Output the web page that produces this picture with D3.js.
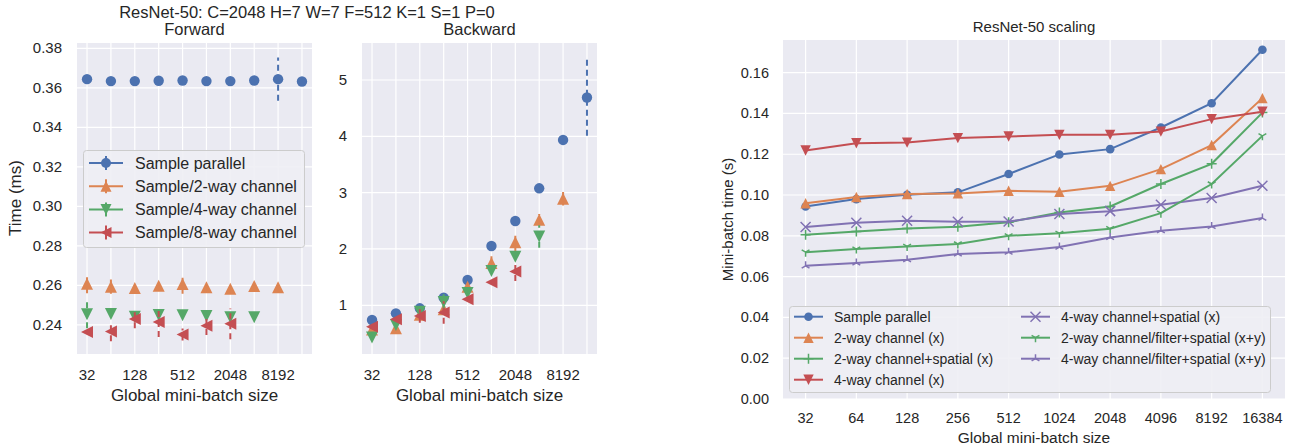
<!DOCTYPE html>
<meta charset="utf-8">
<script src="https://cdn.jsdelivr.net/npm/d3@7/dist/d3.min.js"></script>
<style>
body { margin: 0; background: #fff; }
text { font-family: 'Liberation Sans', Arial, sans-serif; fill: #262626; }
.grid line { stroke: #fff; stroke-width: 1.2px; }
</style>
<body>
<script>

// ---- data ----
var batchSizes = [32, 64, 128, 256, 512, 1024, 2048, 4096, 8192, 16384];
var leftTickSizes = [32, 128, 512, 2048, 8192];

// forward (ms)
var fwdSample = [0.3644, 0.3634, 0.3634, 0.3636, 0.3637, 0.3634, 0.3634, 0.3637, 0.3644, 0.3632];
var fwdSampleErr = [0.0005, 0.0003, 0.0003, 0.0003, 0.0003, 0.0003, 0.0003, 0.0003, 0.011, 0.0003];
var fwd2way = [0.2608, 0.2593, 0.2586, 0.2598, 0.2607, 0.2590, 0.2583, 0.2597, 0.2590, null];
var fwd2wayErr = [0.0048, 0.0036, 0.001, 0.001, 0.005, 0.001, 0.001, 0.001, 0.001, null];
var fwd4way = [0.2453, 0.2455, 0.2441, 0.2450, 0.2448, 0.2445, 0.2438, 0.2438, null, null];
var fwd4wayErr = [0.007, 0.001, 0.001, 0.001, 0.001, 0.001, 0.001, 0.001, null, null];
var fwd8way = [0.2363, 0.2366, 0.2429, 0.2414, 0.2351, 0.2395, 0.2405, null, null, null];
var fwd8wayErr = [0.001, 0.005, 0.0046, 0.0076, 0.003, 0.0047, 0.0078, null, null, null];

// backward (ms)
var bwdSample = [0.739, 0.857, 0.946, 1.135, 1.449, 2.053, 2.497, 3.077, 3.936, 4.69];
var bwdSampleErr = [0.02, 0.02, 0.08, 0.03, 0.02, 0.02, 0.02, 0.02, 0.02, 0.68];
var bwd2way = [0.57, 0.59, 0.83, 0.93, 1.33, 1.75, 2.12, 2.52, 2.89, null];
var bwd2wayErr = [0.02, 0.02, 0.05, 0.05, 0.07, 0.12, 0.17, 0.1, 0.12, null];
var bwd4way = [0.43, 0.65, 0.886, 1.06, 1.22, 1.61, 1.86, 2.22, null, null];
var bwd4wayErr = [0.02, 0.02, 0.05, 0.15, 0.03, 0.03, 0.03, 0.2, null, null];
var bwd8way = [0.62, 0.75, 0.81, 0.87, 1.107, 1.41, 1.60, null, null, null];
var bwd8wayErr = [0.02, 0.02, 0.12, 0.2, 0.03, 0.02, 0.17, null, null, null];

var leftNames = ["Sample parallel", "Sample/2-way channel", "Sample/4-way channel", "Sample/8-way channel"];

// scaling (s)
var scSample = [0.0944, 0.0980, 0.1001, 0.1013, 0.1103, 0.1199, 0.1225, 0.1331, 0.1450, 0.1712];
var sc2way = [0.0960, 0.0990, 0.1005, 0.1008, 0.1021, 0.1016, 0.1045, 0.1127, 0.1245, 0.1475];
var sc2wayCS = [0.0805, 0.0821, 0.0836, 0.0844, 0.0867, 0.0914, 0.0944, 0.1054, 0.1153, 0.1404];
var sc4way = [0.1218, 0.1254, 0.1257, 0.1279, 0.1287, 0.1295, 0.1295, 0.1311, 0.1372, 0.1408];
var sc4wayCS = [0.0843, 0.0864, 0.0874, 0.0869, 0.0870, 0.0907, 0.0921, 0.0952, 0.0985, 0.1045];
var sc2wayCFS = [0.0720, 0.0735, 0.0748, 0.0760, 0.0800, 0.0812, 0.0835, 0.0911, 0.1054, 0.1290];
var sc4wayCFS = [0.0653, 0.0667, 0.0683, 0.0711, 0.0720, 0.0745, 0.0792, 0.0825, 0.0846, 0.0887];
var scNames = ["Sample parallel", "2-way channel (x)", "2-way channel+spatial (x)", "4-way channel (x)",
               "4-way channel+spatial (x)", "2-way channel/filter+spatial (x+y)", "4-way channel/filter+spatial (x+y)"];

var blue = "#4c72b0", orange = "#dd8452", green = "#55a868", red = "#c44e52", purple = "#8172b3";
var bg = "#eaeaf2";

var width = 1291, height = 448;
var svg = d3.select("body").append("svg")
    .attr("width", width)
    .attr("height", height);

function markerPath(type, r) {
  var a = 0.866 * r, b = 0.5 * r;
  switch (type) {
    case "^": return "M0," + (-r) + "L" + r + "," + r + "L" + (-r) + "," + r + "Z";
    case "v": return "M0," + r + "L" + r + "," + (-r) + "L" + (-r) + "," + (-r) + "Z";
    case "<": return "M" + (-r) + ",0L" + r + "," + (-r) + "L" + r + "," + r + "Z";
    case "+": return "M" + (-r) + ",0H" + r + "M0," + (-r) + "V" + r;
    case "x": return "M" + (-r) + "," + (-r) + "L" + r + "," + r + "M" + (-r) + "," + r + "L" + r + "," + (-r);
    case "1": return "M0,0V" + r + "M0,0L" + (-a) + "," + (-b) + "M0,0L" + a + "," + (-b);
    case "2": return "M0,0V" + (-r) + "M0,0L" + (-a) + "," + b + "M0,0L" + a + "," + b;
  }
}

function drawMarker(g, type, color, cx, cy, r) {
  if (type == "o") {
    g.append("circle").attr("cx", cx).attr("cy", cy).attr("r", r).style("fill", color);
  } else if (type == "^" || type == "v" || type == "<") {
    g.append("path").attr("transform", "translate(" + cx + "," + cy + ")")
      .attr("d", markerPath(type, r)).style("fill", color);
  } else {
    g.append("path").attr("transform", "translate(" + cx + "," + cy + ")")
      .attr("d", markerPath(type, r)).style("fill", "none")
      .style("stroke", color).style("stroke-width", 1.5);
  }
}

// background + grid for a panel
function makePanel(x0, x1, y0, y1, x, y, yTicks, gridX) {
  var g = svg.append("g");
  g.append("rect").attr("x", x0).attr("y", y0)
    .attr("width", x1 - x0).attr("height", y1 - y0).style("fill", bg);
  var grid = g.append("g").attr("class", "grid");
  grid.selectAll(".h").data(yTicks).enter().append("line")
    .attr("x1", x0).attr("x2", x1)
    .attr("y1", function(d) { return y(d); }).attr("y2", function(d) { return y(d); });
  grid.selectAll(".v").data(gridX).enter().append("line")
    .attr("y1", y0).attr("y2", y1)
    .attr("x1", function(d) { return x(d); }).attr("x2", function(d) { return x(d); });
  return g;
}

// ---------- left two panels ----------
var leftMarkers = ["o", "^", "v", "<"];
var leftColors = [blue, orange, green, red];

function leftPanel(x0, x1, yDomain, yTicks, yFmt, series, errs, title) {
  var top = 43, bottom = 354;
  var x = d3.scaleLog().base(2).domain([Math.pow(2, 4.58), Math.pow(2, 14.42)]).range([x0, x1]);
  var y = d3.scaleLinear().domain(yDomain).range([bottom, top]);
  var g = makePanel(x0, x1, top, bottom, x, y, yTicks, batchSizes);

  g.selectAll(".yt").data(yTicks).enter().append("text")
    .attr("x", x0 - 15).attr("y", function(d) { return y(d) + 5; })
    .style("text-anchor", "end").style("font-size", "15px")
    .text(function(d) { return d3.format(yFmt)(d); });
  g.selectAll(".xt").data(leftTickSizes).enter().append("text")
    .attr("x", function(d) { return x(d); }).attr("y", 380)
    .style("text-anchor", "middle").style("font-size", "15px")
    .text(function(d) { return d; });
  g.append("text").attr("x", (x0 + x1) / 2).attr("y", 401)
    .style("text-anchor", "middle").style("font-size", "17px")
    .text("Global mini-batch size");
  g.append("text").attr("x", (x0 + x1) / 2).attr("y", 35)
    .style("text-anchor", "middle").style("font-size", "16.5px")
    .text(title);

  series.forEach(function(vals, si) {
    var sg = g.append("g");
    batchSizes.forEach(function(b, i) {
      if (vals[i] == null) return;
      var e = errs[si][i];
      sg.append("line")
        .attr("x1", x(b)).attr("x2", x(b))
        .attr("y1", y(vals[i] - e)).attr("y2", y(vals[i] + e))
        .style("stroke", leftColors[si]).style("stroke-width", 2)
        .style("stroke-dasharray", "6,4");
      drawMarker(sg, leftMarkers[si], leftColors[si], x(b), y(vals[i]), leftMarkers[si] == "o" ? 5.2 : 6);
    });
  });
  return {g: g, x: x, y: y};
}

var fwd = leftPanel(77, 312, [0.2252, 0.3827], d3.range(0.24, 0.381, 0.02), ".2f",
  [fwdSample, fwd2way, fwd4way, fwd8way],
  [fwdSampleErr, fwd2wayErr, fwd4wayErr, fwd8wayErr], "Forward");

var bwd = leftPanel(362, 597, [0.135, 5.657], [1, 2, 3, 4, 5], "d",
  [bwdSample, bwd2way, bwd4way, bwd8way],
  [bwdSampleErr, bwd2wayErr, bwd4wayErr, bwd8wayErr], "Backward");

svg.append("text").attr("x", 307).attr("y", 17.5)
  .style("text-anchor", "middle").style("font-size", "16.5px")
  .text("ResNet-50: C=2048 H=7 W=7 F=512 K=1 S=1 P=0");

svg.append("text")
  .attr("transform", "translate(21,198) rotate(-90)")
  .style("text-anchor", "middle").style("font-size", "17px")
  .text("Time (ms)");

// left legend
var lg = svg.append("g");
lg.append("rect").attr("x", 83.5).attr("y", 150.5).attr("width", 221).attr("height", 97)
  .attr("rx", 3).style("fill", "#eeeef4").style("fill-opacity", 0.9)
  .style("stroke", "#cccccc");
leftNames.forEach(function(n, i) {
  var ly = 163 + i * 23.2;
  lg.append("line").attr("x1", 89).attr("x2", 123).attr("y1", ly).attr("y2", ly)
    .style("stroke", leftColors[i]).style("stroke-width", 2);
  lg.append("line").attr("x1", 106).attr("x2", 106).attr("y1", ly - 7).attr("y2", ly + 7)
    .style("stroke", leftColors[i]).style("stroke-width", 2);
  drawMarker(lg, leftMarkers[i], leftColors[i], 106, ly, leftMarkers[i] == "o" ? 5 : 5.5);
  lg.append("text").attr("x", 135).attr("y", ly + 5.5).style("font-size", "16px").text(n);
});

// ---------- right panel ----------
var rx0 = 783, rx1 = 1285, rTop = 40, rBottom = 399;
var xr = d3.scaleLog().base(2).domain([Math.pow(2, 4.555), Math.pow(2, 14.445)]).range([rx0, rx1]);
var yr = d3.scaleLinear().domain([0, 0.176]).range([rBottom, rTop]);
var rTicks = d3.range(0, 0.161, 0.02);
var rg = makePanel(rx0, rx1, rTop, rBottom, xr, yr, rTicks, batchSizes);

rg.selectAll(".yt").data(rTicks).enter().append("text")
  .attr("x", rx0 - 14).attr("y", function(d) { return yr(d) + 5; })
  .style("text-anchor", "end").style("font-size", "14.5px")
  .text(function(d) { return d3.format(".2f")(d); });
rg.selectAll(".xt").data(batchSizes).enter().append("text")
  .attr("x", function(d) { return xr(d); }).attr("y", 423)
  .style("text-anchor", "middle").style("font-size", "14.5px")
  .text(function(d) { return d; });
rg.append("text").attr("x", (rx0 + rx1) / 2).attr("y", 443)
  .style("text-anchor", "middle").style("font-size", "15.5px")
  .text("Global mini-batch size");
rg.append("text").attr("x", (rx0 + rx1) / 2).attr("y", 32)
  .style("text-anchor", "middle").style("font-size", "15px")
  .text("ResNet-50 scaling");
rg.append("text")
  .attr("transform", "translate(733," + ((rTop + rBottom) / 2) + ") rotate(-90)")
  .style("text-anchor", "middle").style("font-size", "15px")
  .text("Mini-batch time (s)");

var scSeries = [scSample, sc2way, sc2wayCS, sc4way, sc4wayCS, sc2wayCFS, sc4wayCFS];
var scColors = [blue, orange, green, red, purple, green, purple];
var scMarkers = ["o", "^", "+", "v", "x", "1", "2"];
var scSizes = [4.3, 5.2, 5, 5.2, 5, 4.5, 4.5];

var line = d3.line()
  .x(function(d, i) { return xr(batchSizes[i]); })
  .y(function(d) { return yr(d); });

// draw order as in the figure: later series on top
scSeries.forEach(function(vals, si) {
  var sg = rg.append("g");
  sg.append("path").attr("d", line(vals))
    .style("fill", "none").style("stroke", scColors[si]).style("stroke-width", 2);
  vals.forEach(function(v, i) {
    drawMarker(sg, scMarkers[si], scColors[si], xr(batchSizes[i]), yr(v), scSizes[si]);
  });
});

// right legend
var rl = svg.append("g");
rl.append("rect").attr("x", 789.5).attr("y", 306.5).attr("width", 481).attr("height", 86)
  .attr("rx", 3).style("fill", "#eeeef4").style("fill-opacity", 0.9)
  .style("stroke", "#cccccc");
scNames.forEach(function(n, i) {
  var col = i < 4 ? 0 : 1;
  var row = i < 4 ? i : i - 4;
  var lx = col == 0 ? 794 : 1021;
  var ly = 316.7 + row * 21;
  rl.append("line").attr("x1", lx).attr("x2", lx + 29).attr("y1", ly).attr("y2", ly)
    .style("stroke", scColors[i]).style("stroke-width", 2);
  drawMarker(rl, scMarkers[i], scColors[i], lx + 14.5, ly, scSizes[i]);
  rl.append("text").attr("x", lx + 40).attr("y", ly + 5).style("font-size", "14px").text(n);
});

</script>
</body>
